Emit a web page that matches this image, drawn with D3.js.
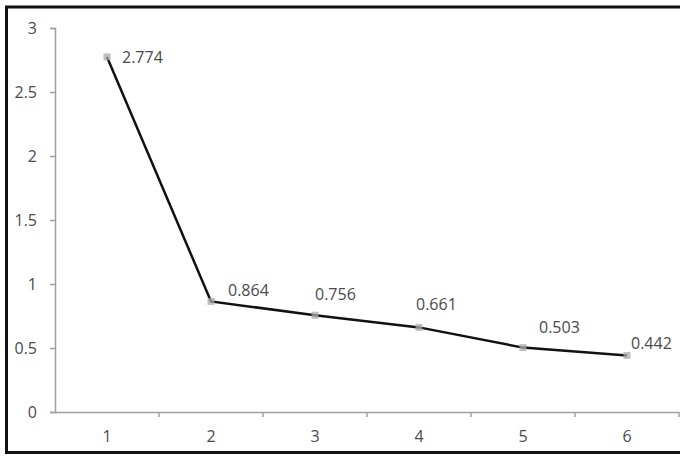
<!DOCTYPE html>
<html>
<head>
<meta charset="utf-8">
<script src="https://cdn.jsdelivr.net/npm/d3@7"></script>
<style>
  body { margin: 0; background: #fff; }
  text { font-family: "Open Sans", "Liberation Sans", sans-serif; fill: #4a4a4a; }
</style>
</head>
<body>
<svg id="svg" width="680" height="457"></svg>
<script>
const categories = ["1", "2", "3", "4", "5", "6"];
const values = [2.774, 0.864, 0.756, 0.661, 0.503, 0.442];
const yTicks = [0, 0.5, 1, 1.5, 2, 2.5, 3];

// label nudges (px) relative to each point, as Excel placed them
const labelDx = [15, 17, 0, -3, 16, 4];
const labelDy = [2, -10, -20, -22, -19, -11];

const svg = d3.select("#svg");

// chart frame (right edge is cropped in the original)
svg.append("path")
  .attr("d", "M690,7 H6.5 V452.5 H690")
  .attr("fill", "none")
  .attr("stroke", "#111")
  .attr("stroke-width", 3);

const mLeft = 55, mRight = 679, mTop = 28, mBottom = 412;

const x = d3.scaleBand().domain(categories).range([mLeft, mRight]);
const y = d3.scaleLinear().domain([0, 3]).range([mBottom, mTop]);

// y axis
const yAxis = svg.append("g")
  .attr("transform", `translate(${mLeft},0)`)
  .call(d3.axisLeft(y).tickValues(yTicks).tickSize(5).tickPadding(13).tickFormat(d3.format("")));
yAxis.select(".domain").attr("stroke", "#a0a0a0").attr("stroke-width", 1.5);
yAxis.selectAll(".tick line").attr("stroke", "#a0a0a0").attr("stroke-width", 1.5);
yAxis.selectAll("text").style("font-size", "16px").attr("fill", "#4a4a4a");

// x axis
const xAxis = svg.append("g")
  .attr("transform", `translate(0,${mBottom})`)
  .call(d3.axisBottom(x).tickSize(0).tickPadding(19));
xAxis.select(".domain").attr("stroke", "#a0a0a0").attr("stroke-width", 1.5);
xAxis.selectAll("text").style("font-size", "16px").attr("fill", "#4a4a4a");

// tick marks between categories
svg.append("g")
  .selectAll("line")
  .data(categories)
  .join("line")
  .attr("x1", (d) => x(d) + x.bandwidth())
  .attr("x2", (d) => x(d) + x.bandwidth())
  .attr("y1", mBottom)
  .attr("y2", mBottom + 5)
  .attr("stroke", "#a0a0a0")
  .attr("stroke-width", 1.5);

const pts = categories.map((c, i) => ({ c, v: values[i], i }));

// the line
svg.append("path")
  .datum(pts)
  .attr("fill", "none")
  .attr("stroke", "#111")
  .attr("stroke-width", 2.5)
  .attr("d", d3.line()
    .x((d) => x(d.c) + x.bandwidth() / 2)
    .y((d) => y(d.v)));

// markers
svg.append("g")
  .selectAll("rect")
  .data(pts)
  .join("rect")
  .attr("x", (d) => x(d.c) + x.bandwidth() / 2 - 3.5)
  .attr("y", (d) => y(d.v) - 3.5)
  .attr("width", 7)
  .attr("height", 7)
  .attr("fill", "#aaa")
  .attr("opacity", 0.75);

// data labels
svg.append("g")
  .selectAll("text")
  .data(pts)
  .join("text")
  .attr("x", (d) => x(d.c) + x.bandwidth() / 2 + labelDx[d.i])
  .attr("y", (d) => y(d.v) + labelDy[d.i])
  .attr("dominant-baseline", "middle")
  .style("font-size", "16px")
  .text((d) => d.v.toFixed(3));
</script>
</body>
</html>
